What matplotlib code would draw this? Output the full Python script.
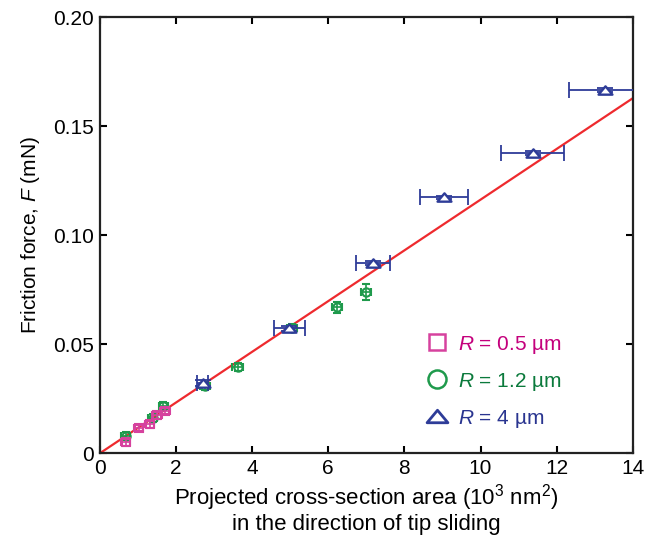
import matplotlib
matplotlib.use("Agg")
import matplotlib.pyplot as plt
from matplotlib.lines import Line2D
from matplotlib.path import Path

plt.rcParams['font.family'] = ['Liberation Sans', 'DejaVu Sans']
plt.rcParams['mathtext.fontset'] = 'custom'
plt.rcParams['mathtext.rm'] = 'Liberation Sans'
plt.rcParams['mathtext.it'] = 'Liberation Sans:italic'

# R = 0.5 um (squares)
sq_x = [0.68, 1.02, 1.31, 1.50, 1.71]
sq_y = [0.0050, 0.0115, 0.0133, 0.0174, 0.0193]
sq_xerr = [0.12, 0.12, 0.12, 0.12, 0.12]
sq_yerr = [0.0015, 0.0015, 0.0015, 0.0015, 0.0015]

# R = 1.2 um (circles)
ci_x = [0.68, 1.39, 1.66, 2.76, 3.62, 5.05, 6.23, 6.99]
ci_y = [0.0078, 0.0160, 0.0215, 0.0310, 0.0395, 0.0575, 0.0670, 0.0740]
ci_xerr = [0.12, 0.12, 0.12, 0.12, 0.14, 0.14, 0.12, 0.12]
ci_yerr = [0.0018, 0.0018, 0.0018, 0.0018, 0.0020, 0.0020, 0.0025, 0.0035]

# R = 4 um (triangles)
tr_x = [2.70, 4.98, 7.17, 9.04, 11.37, 13.27]
tr_y = [0.0322, 0.0573, 0.0872, 0.1174, 0.1376, 0.1665]
tr_xerr = [0.15, 0.40, 0.45, 0.63, 0.83, 0.95]
tr_yerr = [0.0015, 0.0012, 0.0010, 0.0008, 0.0008, 0.0008]

# linear fit F = k * A
fit_x = [0, 14]
fit_k = 0.01163

xticks = [0, 2, 4, 6, 8, 10, 12, 14]
yticks = [0, 0.05, 0.10, 0.15, 0.20]
ytick_labels = ['0', '0.05', '0.10', '0.15', '0.20']

c_sq = '#d6429e'
c_ci = '#1f9a4c'
c_tr = '#2e3c98'
t_sq = '#c4007c'
t_ci = '#0b7a3c'
t_tr = '#2a3590'

# flat triangle marker (wider than tall)
tri = Path([(-1, -0.6), (1, -0.6), (0, 0.6), (-1, -0.6)],
           [Path.MOVETO, Path.LINETO, Path.LINETO, Path.CLOSEPOLY])

fig = plt.figure(figsize=(6.53, 5.37), dpi=100)
ax = fig.add_axes([0.153, 0.156, 0.816, 0.812])

ax.plot(fit_x, [fit_k * v for v in fit_x], color='#ee2a2e', lw=1.6, zorder=2)

ax.errorbar(ci_x, ci_y, xerr=ci_xerr, yerr=ci_yerr, fmt='o', ms=6, mfc='none',
            mec=c_ci, mew=1.5, ecolor=c_ci, elinewidth=1.2, capsize=3, capthick=1.2, zorder=3)
ax.errorbar(sq_x, sq_y, xerr=sq_xerr, yerr=sq_yerr, fmt='s', ms=6, mfc='none',
            mec=c_sq, mew=1.5, ecolor=c_sq, elinewidth=1.2, capsize=3, capthick=1.2, zorder=4)
ax.errorbar(tr_x, tr_y, xerr=tr_xerr, yerr=tr_yerr, fmt='none',
            ecolor=c_tr, elinewidth=1.3, capsize=6, capthick=1.3, zorder=5)
ax.plot(tr_x, tr_y, ls='none', marker=tri, ms=10, mfc='white', mec=c_tr, mew=1.7, zorder=6)

ax.set_xlim(0, 14)
ax.set_ylim(0, 0.20)
ax.set_xticks(xticks)
ax.set_xticklabels([str(v) for v in xticks])
ax.set_yticks(yticks)
ax.set_yticklabels(ytick_labels)
ax.tick_params(direction='in', length=5, width=1.5, top=True, right=True,
               labelsize=15, pad=4)
for s in ax.spines.values():
    s.set_linewidth(1.6)
    s.set_color('#222222')

ax.set_xlabel('Projected cross-section area (10$^3$ nm$^2$)\nin the direction of tip sliding',
              fontsize=16, linespacing=1.1, labelpad=3)
ax.set_ylabel('Friction force, $F$ (mN)', fontsize=15, labelpad=8)

handles = [
    Line2D([], [], ls='none', marker='s', ms=11, mfc='none', mec=c_sq, mew=1.8),
    Line2D([], [], ls='none', marker='o', ms=13, mfc='none', mec=c_ci, mew=1.8),
    Line2D([], [], ls='none', marker=tri, ms=15, mfc='none', mec=c_tr, mew=2.0),
]
labels = ['$R$ = 0.5 µm', '$R$ = 1.2 µm', '$R$ = 4 µm']
ax.legend(handles, labels, loc='lower left', bbox_to_anchor=(0.59, 0.03),
          frameon=False, fontsize=15, labelcolor=[t_sq, t_ci, t_tr],
          handletextpad=0.4, labelspacing=0.72, handlelength=1.2, borderpad=0)

fig.savefig('out.png', dpi=100)
